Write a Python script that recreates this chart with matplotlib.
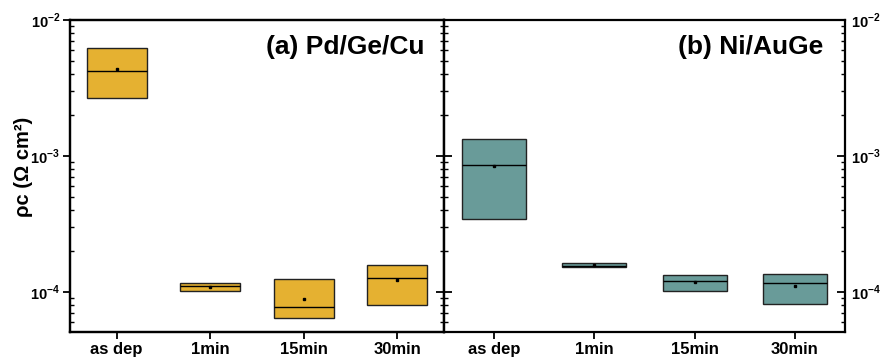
import matplotlib
matplotlib.use("Agg")
import matplotlib.pyplot as plt
from matplotlib.ticker import LogLocator, FixedFormatter, FixedLocator, NullFormatter
import numpy as np

plt.rcParams['font.family'] = ['Liberation Sans', 'DejaVu Sans']
plt.rcParams['font.weight'] = 'bold'
plt.rcParams['mathtext.fontset'] = 'custom'
plt.rcParams['mathtext.rm'] = 'Liberation Sans:bold'
plt.rcParams['mathtext.bf'] = 'Liberation Sans:bold'

categories = ['as dep', '1min', '15min', '30min']

# Pd/Ge/Cu
pd_q1 = [2.67e-3, 1.02e-4, 6.4e-5, 8.0e-5]
pd_med = [4.22e-3, 1.11e-4, 7.7e-5, 1.26e-4]
pd_q3 = [6.23e-3, 1.16e-4, 1.23e-4, 1.58e-4]
pd_mean = [4.38e-3, 1.09e-4, 8.8e-5, 1.21e-4]

# Ni/AuGe
ni_q1 = [3.42e-4, 1.52e-4, 1.01e-4, 8.1e-5]
ni_med = [8.6e-4, 1.55e-4, 1.19e-4, 1.16e-4]
ni_q3 = [1.34e-3, 1.63e-4, 1.33e-4, 1.34e-4]
ni_mean = [8.4e-4, 1.58e-4, 1.18e-4, 1.10e-4]

yticks = [1e-4, 1e-3, 1e-2]
ytick_labels = [r'$10^{-4}$', r'$10^{-3}$', r'$10^{-2}$']
ylim = (5.05e-5, 1e-2)

fig = plt.figure(figsize=(8.86, 3.6), dpi=100)
ax1 = fig.add_axes([70/886, 28/360, 374/886, 312/360])
ax2 = fig.add_axes([444/886, 28/360, 401/886, 312/360])


def log_axis(ax):
    ax.set_yscale('log')
    ax.set_ylim(*ylim)
    ax.yaxis.set_major_locator(FixedLocator(yticks))
    ax.yaxis.set_major_formatter(FixedFormatter(ytick_labels))
    ax.yaxis.set_minor_locator(LogLocator(base=10, subs=np.arange(2, 10)))
    ax.yaxis.set_minor_formatter(NullFormatter())


def draw_panel(ax, q1, med, q3, mean, color, title):
    x = np.arange(len(categories))
    q1 = np.array(q1); q3 = np.array(q3)
    ax.bar(x, q3 - q1, bottom=q1, width=0.64, color=color,
           edgecolor='#222222', linewidth=1.0, zorder=2)
    ax.hlines(med, x - 0.32, x + 0.32, colors='black', linewidth=1.0, zorder=3)
    ax.plot(x, mean, 's', color='black', markersize=2, zorder=4)
    log_axis(ax)
    ax.set_xlim(-0.5, 3.5)
    ax.set_xticks(x)
    ax.set_xticklabels(categories, fontsize=12, fontweight='bold')
    ax.tick_params(axis='x', direction='out', length=5, width=1.3, pad=2)
    for s in ax.spines.values():
        s.set_linewidth(1.6)
    ax.text(0.947, 0.915, title, transform=ax.transAxes, ha='right', va='center',
            fontsize=19, fontweight='bold')


draw_panel(ax1, pd_q1, pd_med, pd_q3, pd_mean, '#E5B131', '(a) Pd/Ge/Cu')
draw_panel(ax2, ni_q1, ni_med, ni_q3, ni_mean, '#699B99', '(b) Ni/AuGe')

# left panel: labelled left side (major out, minor in), plain right side
ax1.tick_params(axis='y', which='major', direction='out', length=5, width=1.3,
                labelsize=10.5, left=True, right=False, pad=2)
ax1.tick_params(axis='y', which='minor', direction='in', length=3, width=1.0,
                left=True, right=False)
ax1r = ax1.twinx()
log_axis(ax1r)
ax1r.tick_params(axis='y', which='major', direction='in', length=6, width=1.3,
                 labelright=False)
ax1r.tick_params(axis='y', which='minor', direction='in', length=3, width=1.0)
for s in ax1r.spines.values():
    s.set_linewidth(1.6)

# right panel: ticks inward on both sides, labels on the right
ax2.tick_params(axis='y', which='major', direction='in', length=6, width=1.3,
                labelsize=10.5, left=True, right=True, labelleft=False,
                labelright=True, pad=4)
ax2.tick_params(axis='y', which='minor', direction='in', length=3, width=1.0,
                left=True, right=True)

ax1.set_ylabel('ρc (Ω cm²)', fontsize=14.5, fontweight='bold', labelpad=0)
ax1.yaxis.set_label_coords(-0.1, 0.53)

fig.savefig('out.png', dpi=100)
